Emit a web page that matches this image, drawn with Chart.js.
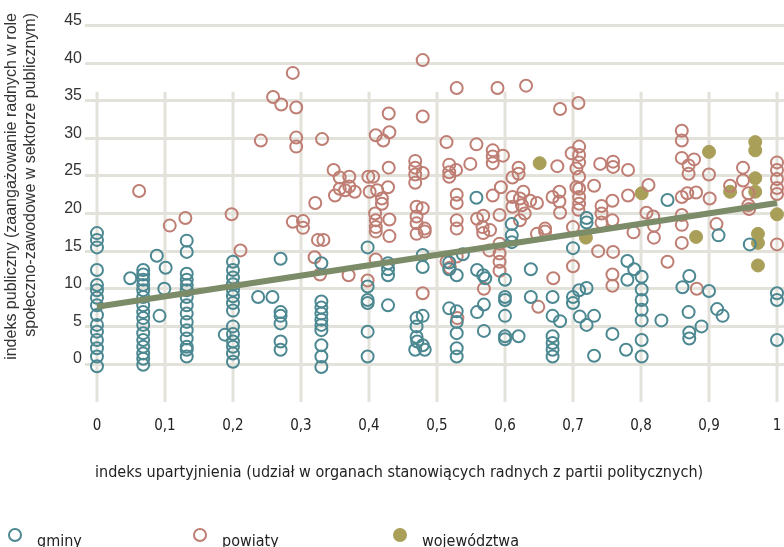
<!DOCTYPE html>
<html>
<head>
<meta charset="utf-8">
<script src="https://cdn.jsdelivr.net/npm/chart.js@4.4.0/dist/chart.umd.min.js"></script>
<style>
  html, body { margin: 0; padding: 0; background: #fff; }
  canvas { display: block; }
</style>
</head>
<body>
<canvas id="chart" width="784" height="547"></canvas>
<script>
// dane: [indeks upartyjnienia, indeks publiczny]
const gminy = [
  [0,17.4],[0,16.5],[0,15.5],[0,12.5],[0,10.5],[0,9.8],[0,8.8],[0,7.8],[0,6.5],[0,5.2],[0,4.3],[0,3.2],[0,2.1],[0,1.0],[0,-0.3],
  [0.049,11.4],
  [0.068,12.5],[0.068,11.9],[0.068,11.2],[0.068,10.5],[0.068,9.8],[0.068,8.9],[0.068,7.8],[0.068,6.9],[0.068,6.1],[0.068,5.2],[0.068,4.1],[0.068,3.2],[0.068,2.3],[0.068,1.4],[0.068,0.7],[0.068,-0.1],
  [0.088,14.4],[0.092,6.4],[0.099,10.0],[0.101,12.8],
  [0.132,16.4],[0.132,14.9],[0.132,12.0],[0.132,11.2],[0.132,10.5],[0.132,9.8],[0.132,8.9],[0.132,7.8],[0.132,6.7],[0.132,5.6],[0.132,4.5],[0.132,3.4],[0.132,2.3],[0.132,1.9],[0.132,1.0],
  [0.188,3.9],
  [0.2,13.6],[0.2,12.5],[0.2,11.5],[0.2,10.6],[0.2,9.8],[0.2,9.0],[0.2,8.1],[0.2,7.1],[0.2,5.0],[0.2,4.0],[0.2,3.0],[0.2,2.3],[0.2,1.4],[0.2,0.3],
  [0.237,8.9],[0.258,8.9],
  [0.27,14.0],[0.27,6.9],[0.27,6.4],[0.27,5.4],[0.27,3.0],[0.27,1.9],
  [0.33,13.4],[0.33,8.3],[0.33,7.5],[0.33,6.7],[0.33,5.9],[0.33,5.2],[0.33,4.5],[0.33,2.5],[0.33,1.0],[0.33,-0.4],
  [0.398,15.5],[0.398,10.3],[0.398,8.5],[0.398,8.1],[0.398,4.3],[0.398,1.0],
  [0.428,13.4],[0.428,12.6],[0.428,11.8],[0.428,7.8],
  [0.479,14.5],[0.479,12.9],[0.47,6.1],[0.479,6.4],[0.47,5.0],[0.47,3.6],[0.471,3.0],[0.479,2.5],[0.468,1.9],[0.482,1.9],
  [0.518,13.5],[0.518,12.6],[0.529,11.8],[0.538,14.6],[0.518,7.4],[0.529,7.0],[0.529,5.6],[0.529,4.1],[0.529,2.1],[0.529,1.0],
  [0.558,22.1],[0.559,12.5],[0.568,11.8],[0.571,11.4],[0.559,6.9],[0.569,7.9],[0.569,4.4],
  [0.6,11.2],[0.6,8.9],[0.6,8.5],[0.6,6.4],[0.6,3.7],[0.6,3.3],[0.62,3.7],
  [0.61,18.6],[0.61,17.1],[0.61,16.2],
  [0.638,12.6],[0.638,8.9],
  [0.67,8.9],[0.67,6.4],[0.681,5.7],[0.67,3.7],[0.67,2.8],[0.67,1.9],[0.67,1.0],
  [0.7,15.4],[0.7,8.9],[0.7,8.1],[0.709,9.8],[0.72,10.1],[0.72,19.4],[0.72,18.8],
  [0.71,6.3],[0.72,5.2],[0.731,6.4],[0.731,1.1],
  [0.758,4.0],[0.778,1.9],
  [0.78,13.7],[0.79,12.6],[0.801,11.6],[0.78,11.2],
  [0.801,9.9],[0.801,8.5],[0.801,7.2],[0.801,5.8],[0.801,3.2],[0.801,1.0],
  [0.83,5.8],[0.839,21.8],
  [0.871,11.7],[0.861,10.2],[0.87,6.9],[0.871,4.2],[0.871,3.4],[0.889,5.0],[0.9,9.7],
  [0.912,7.3],[0.92,6.4],[0.914,17.1],[0.96,15.9],
  [1.0,9.4],[1.0,8.5],[1.0,3.2]
];

const powiaty = [
  [0.062,23.0],[0.107,18.4],[0.13,19.4],[0.198,19.9],[0.211,15.1],
  [0.241,29.7],[0.259,35.5],[0.271,34.5],[0.288,38.7],[0.293,34.1],[0.293,30.1],[0.293,28.9],[0.331,29.9],
  [0.288,18.9],[0.303,19.0],[0.303,18.1],[0.321,21.4],[0.325,16.5],[0.333,16.5],[0.320,14.2],[0.328,11.9],
  [0.348,25.8],[0.357,24.8],[0.371,24.9],[0.371,23.6],[0.35,22.4],[0.357,23.3],[0.365,23.1],[0.379,22.9],
  [0.37,11.8],[0.398,11.1],[0.41,13.9],
  [0.399,24.9],[0.406,24.9],[0.401,22.9],[0.412,23.1],[0.428,23.5],
  [0.41,30.4],[0.421,29.7],[0.43,30.8],[0.429,33.3],[0.429,26.1],
  [0.419,22.0],[0.419,21.3],[0.409,20.0],[0.41,19.1],[0.41,18.2],[0.43,19.2],[0.43,17.0],[0.41,17.6],
  [0.468,27.0],[0.468,26.1],[0.468,25.2],[0.468,24.1],[0.479,25.4],[0.479,32.9],[0.479,40.4],
  [0.47,20.9],[0.479,20.7],[0.47,19.6],[0.47,18.7],[0.482,18.0],[0.47,17.3],[0.482,17.6],[0.479,9.4],
  [0.514,29.5],[0.518,26.5],[0.518,25.5],[0.528,25.8],[0.518,24.9],[0.549,26.6],
  [0.529,36.7],[0.589,36.7],[0.631,37.0],[0.681,33.9],[0.708,34.7],
  [0.558,29.2],[0.582,28.4],[0.582,27.6],[0.597,27.7],[0.582,26.7],
  [0.62,26.1],[0.62,25.3],[0.611,24.8],[0.677,26.3],
  [0.698,28.0],[0.709,28.9],[0.709,27.8],[0.709,26.8],[0.705,26.0],[0.709,24.9],[0.705,23.5],[0.74,26.6],
  [0.529,22.5],[0.529,21.4],[0.594,23.5],[0.582,22.4],
  [0.611,22.2],[0.622,22.0],[0.627,22.9],[0.611,20.9],[0.625,21.1],[0.637,21.7],[0.647,21.4],[0.629,20.0],[0.622,19.1],
  [0.67,22.2],[0.68,22.9],[0.68,21.6],[0.681,20.1],
  [0.709,23.3],[0.709,22.2],[0.709,21.3],[0.708,20.5],[0.731,23.7],[0.742,21.0],
  [0.529,19.1],[0.529,18.0],[0.559,19.3],[0.567,18.2],[0.578,17.8],[0.568,19.7],[0.592,19.8],
  [0.659,18.0],[0.647,17.3],[0.659,17.6],[0.7,18.2],[0.742,18.8],
  [0.514,13.6],[0.519,12.8],[0.529,14.3],[0.53,6.1],[0.569,10.0],
  [0.577,15.1],[0.592,16.0],[0.592,14.7],[0.592,13.6],[0.592,12.4],[0.568,17.4],
  [0.649,7.6],[0.671,11.4],[0.7,13.0],[0.737,15.0],[0.759,14.9],[0.758,11.9],[0.758,10.4],
  [0.759,26.9],[0.759,26.2],[0.781,25.8],[0.811,23.8],[0.781,22.4],[0.758,21.7],[0.742,20.0],[0.758,19.1],
  [0.808,20.1],[0.818,19.6],[0.819,18.4],[0.789,17.5],[0.819,16.8],
  [0.86,31.0],[0.86,29.7],[0.86,27.4],[0.878,27.2],[0.87,26.4],[0.87,25.3],
  [0.86,22.2],[0.868,22.7],[0.881,22.8],[0.86,19.8],[0.86,18.5],[0.86,16.1],
  [0.9,25.2],[0.901,22.0],[0.911,18.6],
  [0.95,26.1],[0.95,24.4],[0.931,23.7],[0.958,22.7],[0.958,21.1],[0.959,20.6],
  [1.0,26.8],[1.0,25.8],[1.0,24.6],[1.0,23.4],[1.0,22.6],
  [0.839,13.6],[0.882,10.0],[1.0,15.9]
];

const wojewodztwa = [
  [0.651,26.7],[0.719,16.8],[0.801,22.7],[0.881,16.9],[0.9,28.2],[0.931,22.9],
  [0.968,29.5],[0.968,28.4],[0.968,24.7],[0.968,22.9],[0.972,17.3],[0.972,16.1],[0.972,13.1],[1.0,19.9]
];

// linia trendu (końce)
const trendX = [0, 1];
const trendY = [7.6, 21.4];

const seriesNames = ['gminy', 'powiaty', 'województwa'];
const xTicks = [0, 0.1, 0.2, 0.3, 0.4, 0.5, 0.6, 0.7, 0.8, 0.9, 1];
const yTicks = [0, 5, 10, 15, 20, 25, 30, 35, 40, 45];
const xTitle = 'indeks upartyjnienia (udział w organach stanowiących radnych z partii politycznych)';
const yTitle = ['indeks publiczny (zaangażowanie radnych w role', 'społeczno-zawodowe w sektorze publicznym)'];

const colTeal = '#4c8891';
const colRose = '#bf7e73';
const colOlive = '#a99f59';
const colTrend = '#7c8b68';
const gridColor = '#e3e2da';
const narrowFont = '"Liberation Sans Narrow", "DejaVu Sans Condensed", "Roboto Condensed", "Liberation Sans", sans-serif';
const plainFont = '"Liberation Sans", Arial, sans-serif';

const toPts = arr => arr.map(p => ({ x: p[0], y: p[1] }));

// pionowe linie siatki zaczynają się dopiero przy ~36
const extras = {
  id: 'extras',
  beforeDatasetsDraw(chart) {
    const { ctx, chartArea, scales: { x, y } } = chart;
    ctx.save();
    ctx.strokeStyle = gridColor;
    ctx.lineWidth = 3;
    const top = y.getPixelForValue(36.2);
    xTicks.forEach(v => {
      const px = Math.round(x.getPixelForValue(v));
      ctx.beginPath();
      ctx.moveTo(px, top);
      ctx.lineTo(px, chartArea.bottom);
      ctx.stroke();
    });
    ctx.restore();
  },
  afterDraw(chart) {
    const ctx = chart.ctx;
    ctx.save();
    // tytuł osi Y
    ctx.fillStyle = '#333';
    ctx.font = '16px ' + plainFont;
    ctx.textAlign = 'right';
    ctx.textBaseline = 'middle';
    [12, 31].forEach((cx, i) => {
      ctx.save();
      ctx.translate(cx, 13);
      ctx.rotate(-Math.PI / 2);
      ctx.fillText(yTitle[i], 0, 0);
      ctx.restore();
    });
    // tytuł osi X
    ctx.font = '16px ' + narrowFont;
    ctx.textAlign = 'left';
    ctx.fillStyle = '#222';
    ctx.fillText(xTitle, 95, 473);
    // legenda
    const lx = [15, 200, 400];
    chart.data.datasets.slice(1).forEach((ds, i) => {
      ctx.beginPath();
      ctx.arc(lx[i], 535, 6, 0, Math.PI * 2);
      ctx.lineWidth = 2;
      ctx.strokeStyle = ds.borderColor;
      if (ds.backgroundColor !== 'transparent') {
        ctx.fillStyle = ds.backgroundColor;
        ctx.fill();
      }
      ctx.stroke();
      ctx.fillStyle = '#222';
      ctx.textBaseline = 'alphabetic';
      ctx.fillText(ds.label, lx[i] + 22, 546);
    });
    ctx.restore();
  }
};

new Chart(document.getElementById('chart'), {
  type: 'scatter',
  data: {
    datasets: [
      {
        label: 'trend', type: 'line', order: 0,
        data: trendX.map((v, i) => ({ x: v, y: trendY[i] })),
        borderColor: colTrend, borderWidth: 6, pointRadius: 0, showLine: true, fill: false
      },
      {
        label: seriesNames[0], order: 1, data: toPts(gminy),
        borderColor: colTeal, backgroundColor: 'transparent', pointRadius: 6, borderWidth: 2, clip: false
      },
      {
        label: seriesNames[1], order: 1, data: toPts(powiaty),
        borderColor: colRose, backgroundColor: 'transparent', pointRadius: 6, borderWidth: 2, clip: false
      },
      {
        label: seriesNames[2], order: 1, data: toPts(wojewodztwa),
        borderColor: colOlive, backgroundColor: colOlive, pointRadius: 6.5, borderWidth: 1, clip: false
      }
    ]
  },
  options: {
    responsive: false,
    animation: false,
    layout: { autoPadding: false, padding: { top: 13, left: 0, right: 0, bottom: 0 } },
    plugins: { legend: { display: false }, tooltip: { enabled: false } },
    scales: {
      x: {
        type: 'linear', min: -0.0176, max: 1.0103,
        afterBuildTicks: s => { s.ticks = xTicks.map(v => ({ value: v })); },
        afterFit: s => { s.height = 145; s.paddingLeft = 0; s.paddingRight = 0; },
        grid: { display: false },
        border: { display: false },
        ticks: {
          padding: 7, color: '#222', font: { family: narrowFont, size: 15 },
          callback: v => String(v).replace('.', ',')
        }
      },
      y: {
        type: 'linear', min: -5.05, max: 46.66,
        afterBuildTicks: s => { s.ticks = yTicks.map(v => ({ value: v })); },
        afterFit: s => { s.width = 85; s.paddingTop = 0; s.paddingBottom = 0; },
        grid: { color: gridColor, lineWidth: 3, drawTicks: false },
        border: { display: false },
        ticks: { padding: 3, labelOffset: -5, color: '#333', font: { family: plainFont, size: 16 } }
      }
    }
  },
  plugins: [extras]
});
</script>
</body>
</html>
